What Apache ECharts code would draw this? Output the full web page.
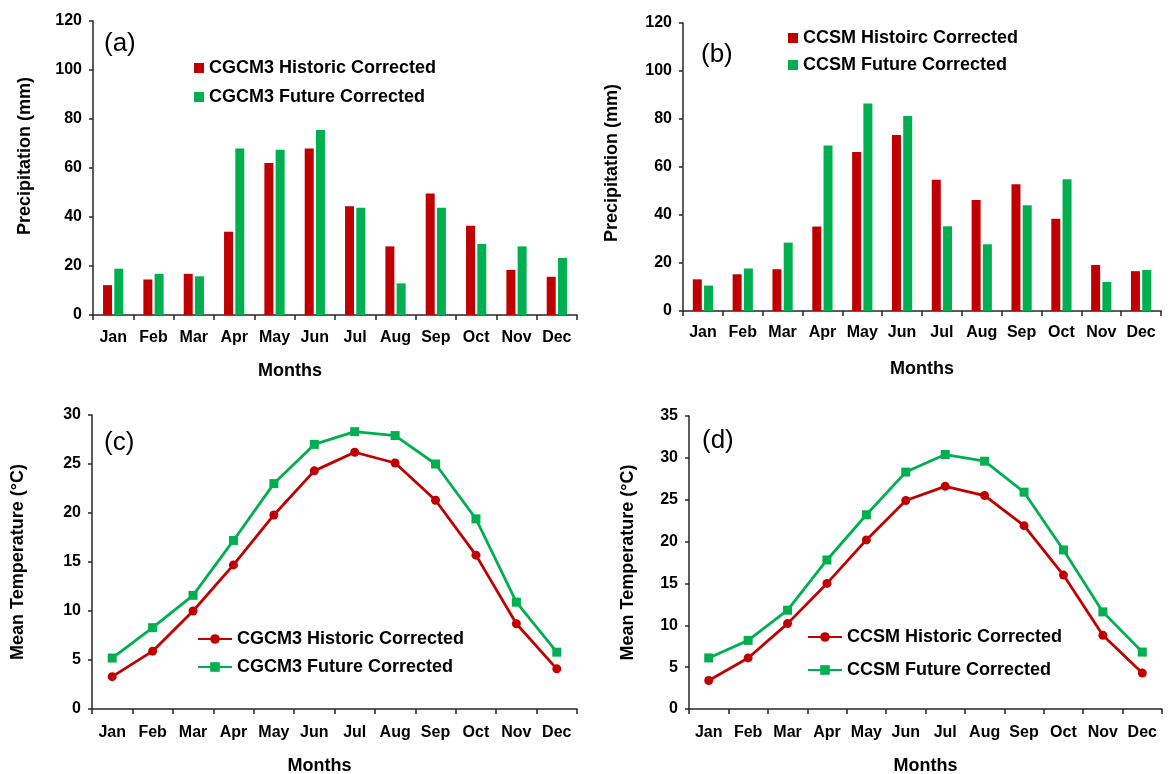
<!DOCTYPE html>
<html>
<head>
<meta charset="utf-8">
<script src="https://cdn.jsdelivr.net/npm/echarts@6/dist/echarts.min.js"></script>
<style>
html,body{margin:0;padding:0;background:#fff;}
#chart{width:1169px;height:774px;}
</style>
</head>
<body>
<div id="chart"></div>
<script>
const months = ['Jan','Feb','Mar','Apr','May','Jun','Jul','Aug','Sep','Oct','Nov','Dec'];

// (a) CGCM3 precipitation (mm)
const precipHistCGCM3 = [12.2, 14.5, 16.8, 34.0, 62.0, 68.0, 44.4, 28.0, 49.6, 36.4, 18.4, 15.6];
const precipFutCGCM3  = [18.9, 16.8, 15.8, 68.0, 67.4, 75.5, 43.8, 12.9, 43.8, 29.0, 28.0, 23.3];

// (b) CCSM precipitation (mm)
const precipHistCCSM = [13.2, 15.3, 17.4, 35.2, 66.3, 73.3, 54.7, 46.2, 52.8, 38.4, 19.2, 16.6];
const precipFutCCSM  = [10.6, 17.7, 28.5, 69.0, 86.5, 81.2, 35.3, 27.8, 44.1, 54.9, 12.1, 17.1];

// (c) CGCM3 mean temperature (°C)
const tempHistCGCM3 = [3.3, 5.9, 10.0, 14.7, 19.8, 24.3, 26.2, 25.1, 21.3, 15.7, 8.7, 4.1];
const tempFutCGCM3  = [5.2, 8.3, 11.6, 17.2, 23.0, 27.0, 28.3, 27.9, 25.0, 19.4, 10.9, 5.8];

// (d) CCSM mean temperature (°C)
const tempHistCCSM = [3.4, 6.1, 10.2, 15.0, 20.2, 24.9, 26.6, 25.5, 21.9, 16.0, 8.8, 4.3];
const tempFutCCSM  = [6.1, 8.2, 11.8, 17.8, 23.2, 28.3, 30.4, 29.6, 25.9, 19.0, 11.6, 6.8];

const panelLabels = ['(a)', '(b)', '(c)', '(d)'];
const yNames = ['Precipitation (mm)', 'Precipitation (mm)', 'Mean Temperature (°C)', 'Mean Temperature (°C)'];
const xName = 'Months';
const legendNames = [
  ['CGCM3 Historic Corrected', 'CGCM3 Future Corrected'],
  ['CCSM Histoirc Corrected', 'CCSM Future Corrected'],
  ['CGCM3 Historic Corrected ', 'CGCM3 Future Corrected '],
  ['CCSM Historic Corrected', 'CCSM Future Corrected ']
];

const RED = '#C00000';
const GREEN = '#00B050';
const FONT = '"Liberation Sans", Arial, sans-serif';
const AXISCOL = '#262626';

const grids = [
  {left: 93, top: 21, width: 484, height: 294},
  {left: 683, top: 23, width: 478, height: 288},
  {left: 92, top: 415, width: 485, height: 294},
  {left: 689, top: 416, width: 473, height: 293}
].map(g => Object.assign({outerBoundsMode: 'none', containLabel: false}, g));
const yRanges = [[0,120,20],[0,120,20],[0,30,5],[0,35,5]];
const yNameGaps = [59, 62, 65, 52];
const yNamePad = [[0,0,0,24],[0,0,0,8],[0,0,0,0],[0,0,0,0]];
const xNamePad = [[0,90,0,0],[0,0,0,0],[0,30,0,0],[0,0,0,0]];
const xNameGaps = [47, 49, 48, 48];
const xLabelMargins = [15, 14, 16, 16];

const xAxes = grids.map((g, i) => ({
  type: 'category', gridIndex: i, data: months,
  axisLine: {show: true, lineStyle: {color: AXISCOL, width: 1.5}},
  axisTick: {show: true, length: 5, lineStyle: {color: AXISCOL, width: 1.5}},
  axisLabel: {interval: 0, fontSize: 16, fontWeight: 'bold', color: '#000', fontFamily: FONT, margin: xLabelMargins[i]},
  name: xName, nameLocation: 'middle', nameGap: xNameGaps[i],
  nameTextStyle: {fontSize: 18, fontWeight: 'bold', color: '#000', fontFamily: FONT, padding: xNamePad[i]},
  splitLine: {show: false}
}));

const yAxes = grids.map((g, i) => ({
  type: 'value', gridIndex: i, min: yRanges[i][0], max: yRanges[i][1], interval: yRanges[i][2],
  axisLine: {show: true, lineStyle: {color: AXISCOL, width: 1.5}},
  axisTick: {show: true, length: 4, lineStyle: {color: AXISCOL, width: 1.5}},
  axisLabel: {fontSize: 16, fontWeight: 'bold', color: '#000', fontFamily: FONT, margin: 11},
  name: yNames[i], nameLocation: 'middle', nameGap: yNameGaps[i],
  nameTextStyle: {fontSize: 18, fontWeight: 'bold', color: '#000', fontFamily: FONT, padding: yNamePad[i]},
  splitLine: {show: false}
}));

function barSeries(name, data, idx, color) {
  return {
    type: 'bar', name: name, data: data, xAxisIndex: idx, yAxisIndex: idx,
    barWidth: 9, barGap: '25%', itemStyle: {color: color}
  };
}
function lineSeries(name, data, idx, color, symbol) {
  return {
    type: 'line', name: name, data: data, xAxisIndex: idx, yAxisIndex: idx,
    symbol: symbol, symbolSize: 9,
    lineStyle: {color: color, width: 2.8}, itemStyle: {color: color}
  };
}

const series = [
  barSeries(legendNames[0][0], precipHistCGCM3, 0, RED),
  barSeries(legendNames[0][1], precipFutCGCM3, 0, GREEN),
  barSeries(legendNames[1][0], precipHistCCSM, 1, RED),
  barSeries(legendNames[1][1], precipFutCCSM, 1, GREEN),
  lineSeries(legendNames[2][0], tempHistCGCM3, 2, RED, 'circle'),
  lineSeries(legendNames[2][1], tempFutCGCM3, 2, GREEN, 'rect'),
  lineSeries(legendNames[3][0], tempHistCCSM, 3, RED, 'circle'),
  lineSeries(legendNames[3][1], tempFutCCSM, 3, GREEN, 'rect')
];

const legendTextStyle = {fontSize: 18, fontWeight: 'bold', color: '#000', fontFamily: FONT};
const legends = [
  {data: legendNames[0], left: 194, top: 59, itemWidth: 10, itemHeight: 10, itemGap: 11, icon: 'rect'},
  {data: legendNames[1], left: 788, top: 29, itemWidth: 10, itemHeight: 10, itemGap: 9, icon: 'rect'},
  {data: legendNames[2], left: 197, top: 630, itemWidth: 34, itemHeight: 12, itemGap: 10},
  {data: legendNames[3], left: 807, top: 628, itemWidth: 34, itemHeight: 12, itemGap: 15}
].map(l => Object.assign({orient: 'vertical', padding: 0, textStyle: legendTextStyle, selectedMode: false}, l));

const titlePos = [[104, 31], [701, 42], [104, 430], [702, 428]];
const titles = panelLabels.map((t, i) => ({
  text: t, left: titlePos[i][0], top: titlePos[i][1], padding: 0,
  textStyle: {fontSize: 26, fontWeight: 'normal', color: '#000', fontFamily: FONT}
}));

const chart = echarts.init(document.getElementById('chart'), null, {renderer: 'canvas'});
chart.setOption({
  animation: false,
  backgroundColor: '#fff',
  title: titles,
  grid: grids,
  xAxis: xAxes,
  yAxis: yAxes,
  legend: legends,
  series: series
});
</script>
</body>
</html>
